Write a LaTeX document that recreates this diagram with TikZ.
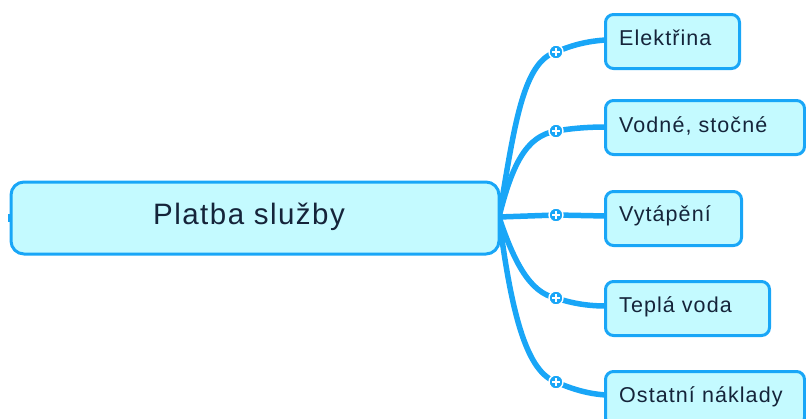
\documentclass[tikz,border=0pt]{standalone}
\usepackage{fontspec}
\setmainfont{Liberation Sans}[LetterSpace=5]
\definecolor{bfill}{HTML}{C4FAFF}
\definecolor{bline}{HTML}{19A6F7}
\definecolor{btext}{HTML}{15243A}
\begin{document}
\begin{tikzpicture}[x=1pt,y=-1pt,
  mainbox/.style={draw=bline,fill=bfill,line width=3pt,rounded corners=13pt,inner sep=0pt},
  childbox/.style={draw=bline,fill=bfill,line width=3pt,rounded corners=8pt,inner sep=0pt,anchor=north west,minimum height=54pt},
  childtext/.style={text=btext,font=\fontsize{21.5}{25}\selectfont,anchor=base west,inner sep=0pt},
  conn/.style={draw=bline,line width=5.5pt,line cap=round},
  knob/.style={circle,fill=bline,draw=white,line width=1.4pt,minimum size=14pt,inner sep=0pt,
    path picture={\draw[white,line width=1.8pt] ([xshift=-4pt]path picture bounding box.center) -- ([xshift=4pt]path picture bounding box.center);
                  \draw[white,line width=1.8pt] ([yshift=-4pt]path picture bounding box.center) -- ([yshift=4pt]path picture bounding box.center);}}
]
\useasboundingbox (0,0) rectangle (806,418);
% connector points
\coordinate (s) at (499,217);
\coordinate (ce) at (556,52);
\coordinate (cv) at (556,131);
\coordinate (ct) at (556,215);
\coordinate (cw) at (556,298);
\coordinate (co) at (556,382);
\coordinate (ee) at (606,40);
\coordinate (ev) at (606,127);
\coordinate (et) at (606,216);
\coordinate (ew) at (606,306);
\coordinate (eo) at (606,395);
\draw[conn] (s) .. controls (514,130) and (522,62) .. (ce) .. controls (572,45) and (588,41) .. (ee);
\draw[conn] (s) .. controls (512,165) and (526,136) .. (cv) .. controls (574,128) and (590,127) .. (ev);
\draw[conn] (s) -- (ct) -- (et);
\draw[conn] (s) .. controls (514,262) and (530,293) .. (cw) .. controls (574,304) and (590,306) .. (ew);
\draw[conn] (s) .. controls (512,320) and (528,372) .. (co) .. controls (574,390) and (590,394) .. (eo);
% child boxes
\node[childbox,minimum width=134pt] (e) at (604,13) {};
\node[childbox,minimum width=199pt] (v) at (604,99) {};
\node[childbox,minimum width=136pt] (t) at (604,190) {};
\node[childbox,minimum width=164pt] (w) at (604,280) {};
\node[childbox,minimum width=199pt] (o) at (604,370) {};
% texts
\node[childtext] (te) at (619,45) {Elektřina};
\node[childtext] (tv) at (619,132) {Vodné, stočné};
\node[childtext] (tt) at (619,221) {Vytápění};
\node[childtext] (tw) at (619,312) {Teplá voda};
\node[childtext] (to) at (619,402) {Ostatní náklady};
% knobs
\foreach \c in {ce,cv,ct,cw,co} \node[knob] at (\c) {};
% main node
\node[fill=bline,minimum width=5pt,minimum height=8pt,inner sep=0pt] (nub) at (10,218) {};
\node[mainbox,minimum width=488pt,minimum height=72pt] (main) at (255,218) {};
\node[text=btext,font=\fontsize{29.5}{34}\selectfont,anchor=base west,inner sep=0pt] (mt) at (153,224) {Platba služby};
\end{tikzpicture}
\end{document}
